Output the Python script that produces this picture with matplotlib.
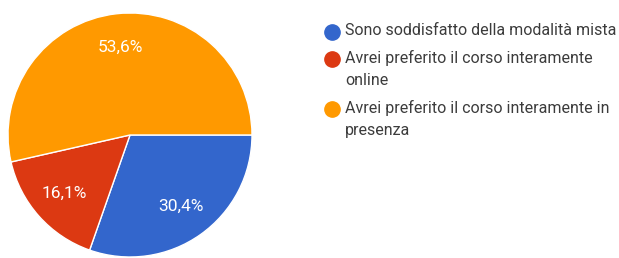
import matplotlib.pyplot as plt
from matplotlib.lines import Line2D

# data
labels = ["Sono soddisfatto della modalità mista",
          "Avrei preferito il corso interamente\nonline",
          "Avrei preferito il corso interamente in\npresenza"]
values = [30.4, 16.1, 53.6]
colors = ["#3366CC", "#DC3912", "#FF9900"]

plt.rcParams['font.family'] = ['Roboto', 'DejaVu Sans']

W, H = 619, 258
fig = plt.figure(figsize=(W / 100, H / 100), dpi=100)

# pie: centre ~ (130, 135) px, radius ~122 px
cx, cy, r = 130, 135, 122
ax = fig.add_axes([(cx - r) / W, (H - cy - r) / H, 2 * r / W, 2 * r / H])
wedges, texts, autotexts = ax.pie(
    values, colors=colors, startangle=0, counterclock=False,
    autopct="%.1f", pctdistance=0.72,
    wedgeprops=dict(edgecolor="white", linewidth=1),
    textprops=dict(color="white", fontsize=12.5))
# show the values as given, with a decimal comma
for t, v in zip(autotexts, values):
    t.set_text(f"{v:.1f}%".replace(".", ","))
ax.set_xlim(-1, 1)
ax.set_ylim(-1, 1)
ax.set_aspect("equal")

# legend drawn by hand so the marker sits on the first text line
row_y = [32, 59, 109]
for lab, col, y in zip(labels, colors, row_y):
    fig.add_artist(Line2D([332 / W], [1 - y / H], marker="o", markersize=11,
                          color=col, linestyle="none", transform=fig.transFigure))
    fig.text(345 / W, 1 - (y - 9) / H, lab, fontsize=11.5, color="#3c3c3c",
             va="top", ha="left", linespacing=1.55)

fig.savefig("out.png", dpi=100)
